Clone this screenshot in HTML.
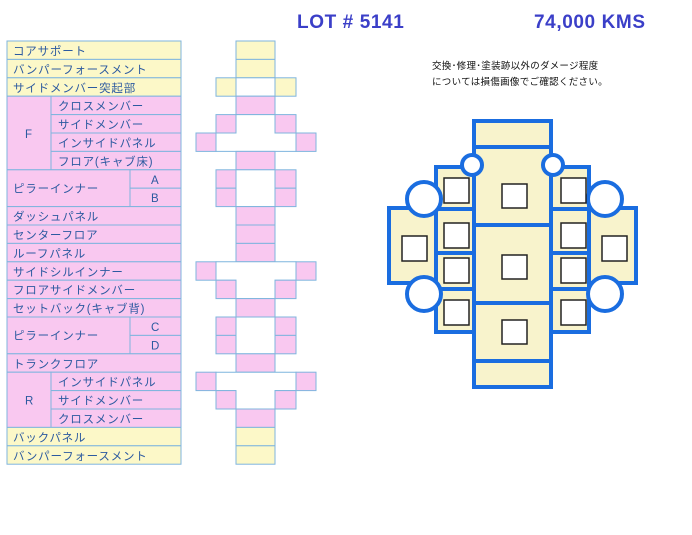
<!DOCTYPE html><html><head><meta charset="utf-8"><style>body{margin:0;background:#fff}svg{display:block}</style></head><body>
<svg width="692" height="535" xmlns="http://www.w3.org/2000/svg" font-family="'Liberation Sans','Noto Sans CJK JP',sans-serif">
<text x="297" y="28" font-size="19" font-weight="bold" fill="#3b3fc8" letter-spacing="0.6">LOT # 5141</text>
<text x="534" y="28" font-size="19" font-weight="bold" fill="#3b3fc8" letter-spacing="0.6">74,000 KMS</text>
<text x="432" y="69" font-size="9.5" fill="#111" letter-spacing="0.3">交換･修理･塗装跡以外のダメージ程度</text>
<text x="432" y="85" font-size="9.5" fill="#111" letter-spacing="0.3">については損傷画像でご確認ください。</text>
<g stroke="#7fb5de" stroke-width="1" font-size="11.5" fill="#2c5aa0">
<rect x="7" y="41" width="174" height="18.4" fill="#fcf8c8"/>
<rect x="7" y="59.4" width="174" height="18.4" fill="#fcf8c8"/>
<rect x="7" y="77.8" width="174" height="18.4" fill="#fcf8c8"/>
<rect x="7" y="96.2" width="44" height="73.6" fill="#f9c8f0"/>
<rect x="51" y="96.2" width="130" height="18.4" fill="#f9c8f0"/>
<rect x="51" y="114.6" width="130" height="18.4" fill="#f9c8f0"/>
<rect x="51" y="133" width="130" height="18.4" fill="#f9c8f0"/>
<rect x="51" y="151.4" width="130" height="18.4" fill="#f9c8f0"/>
<rect x="7" y="169.8" width="123" height="36.8" fill="#f9c8f0"/>
<rect x="130" y="169.8" width="51" height="18.4" fill="#f9c8f0"/>
<rect x="130" y="188.2" width="51" height="18.4" fill="#f9c8f0"/>
<rect x="7" y="206.6" width="174" height="18.4" fill="#f9c8f0"/>
<rect x="7" y="225" width="174" height="18.4" fill="#f9c8f0"/>
<rect x="7" y="243.4" width="174" height="18.4" fill="#f9c8f0"/>
<rect x="7" y="261.8" width="174" height="18.4" fill="#f9c8f0"/>
<rect x="7" y="280.2" width="174" height="18.4" fill="#f9c8f0"/>
<rect x="7" y="298.6" width="174" height="18.4" fill="#f9c8f0"/>
<rect x="7" y="317" width="123" height="36.8" fill="#f9c8f0"/>
<rect x="130" y="317" width="51" height="18.4" fill="#f9c8f0"/>
<rect x="130" y="335.4" width="51" height="18.4" fill="#f9c8f0"/>
<rect x="7" y="353.8" width="174" height="18.4" fill="#f9c8f0"/>
<rect x="7" y="372.2" width="44" height="55.2" fill="#f9c8f0"/>
<rect x="51" y="372.2" width="130" height="18.4" fill="#f9c8f0"/>
<rect x="51" y="390.6" width="130" height="18.4" fill="#f9c8f0"/>
<rect x="51" y="409" width="130" height="18.4" fill="#f9c8f0"/>
<rect x="7" y="427.4" width="174" height="18.4" fill="#fcf8c8"/>
<rect x="7" y="445.8" width="174" height="18.4" fill="#fcf8c8"/>
</g>
<g font-size="11.5" fill="#2c5aa0" letter-spacing="0.8">
<text x="13" y="55">コアサポート</text>
<text x="13" y="73.4">バンパーフォースメント</text>
<text x="13" y="91.8">サイドメンバー突起部</text>
<text x="25" y="138">F</text>
<text x="58" y="110.2">クロスメンバー</text>
<text x="58" y="128.6">サイドメンバー</text>
<text x="58" y="147">インサイドパネル</text>
<text x="58" y="165.4">フロア(キャブ床)</text>
<text x="13" y="192.5">ピラーインナー</text>
<text x="151" y="183.8">A</text>
<text x="151" y="202.2">B</text>
<text x="13" y="220.6">ダッシュパネル</text>
<text x="13" y="239">センターフロア</text>
<text x="13" y="257.4">ルーフパネル</text>
<text x="13" y="275.8">サイドシルインナー</text>
<text x="13" y="294.2">フロアサイドメンバー</text>
<text x="13" y="312.6">セットバック(キャブ背)</text>
<text x="13" y="339.7">ピラーインナー</text>
<text x="151" y="331">C</text>
<text x="151" y="349.4">D</text>
<text x="13" y="367.8">トランクフロア</text>
<text x="25" y="404.6">R</text>
<text x="58" y="386.2">インサイドパネル</text>
<text x="58" y="404.6">サイドメンバー</text>
<text x="58" y="423">クロスメンバー</text>
<text x="13" y="441.4">バックパネル</text>
<text x="13" y="459.8">バンパーフォースメント</text>
</g>
<g stroke="#7fb5de" stroke-width="1">
<rect x="236" y="41" width="39" height="18.4" fill="#fcf8c8"/>
<rect x="236" y="59.4" width="39" height="18.4" fill="#fcf8c8"/>
<rect x="216" y="77.8" width="20" height="18.4" fill="#fcf8c8"/>
<rect x="236" y="77.8" width="39" height="18.4" fill="#fff"/>
<rect x="275" y="77.8" width="21" height="18.4" fill="#fcf8c8"/>
<rect x="236" y="96.2" width="39" height="18.4" fill="#f9c8f0"/>
<polygon points="236,114.6 275,114.6 275,133 296,133 296,151.4 216,151.4 216,133 236,133" fill="#fff"/>
<rect x="216" y="114.6" width="20" height="18.4" fill="#f9c8f0"/>
<rect x="275" y="114.6" width="21" height="18.4" fill="#f9c8f0"/>
<rect x="196" y="133" width="20" height="18.4" fill="#f9c8f0"/>
<rect x="296" y="133" width="20" height="18.4" fill="#f9c8f0"/>
<rect x="236" y="151.4" width="39" height="18.4" fill="#f9c8f0"/>
<rect x="236" y="169.8" width="39" height="36.8" fill="#fff"/>
<rect x="216" y="169.8" width="20" height="18.4" fill="#f9c8f0"/>
<rect x="216" y="188.2" width="20" height="18.4" fill="#f9c8f0"/>
<rect x="275" y="169.8" width="21" height="18.4" fill="#f9c8f0"/>
<rect x="275" y="188.2" width="21" height="18.4" fill="#f9c8f0"/>
<rect x="236" y="206.6" width="39" height="18.4" fill="#f9c8f0"/>
<rect x="236" y="225" width="39" height="18.4" fill="#f9c8f0"/>
<rect x="236" y="243.4" width="39" height="18.4" fill="#f9c8f0"/>
<polygon points="216,261.8 296,261.8 296,280.2 275,280.2 275,298.6 236,298.6 236,280.2 216,280.2" fill="#fff"/>
<rect x="196" y="261.8" width="20" height="18.4" fill="#f9c8f0"/>
<rect x="296" y="261.8" width="20" height="18.4" fill="#f9c8f0"/>
<rect x="216" y="280.2" width="20" height="18.4" fill="#f9c8f0"/>
<rect x="275" y="280.2" width="21" height="18.4" fill="#f9c8f0"/>
<rect x="236" y="298.6" width="39" height="18.4" fill="#f9c8f0"/>
<rect x="236" y="317" width="39" height="36.8" fill="#fff"/>
<rect x="216" y="317" width="20" height="18.4" fill="#f9c8f0"/>
<rect x="216" y="335.4" width="20" height="18.4" fill="#f9c8f0"/>
<rect x="275" y="317" width="21" height="18.4" fill="#f9c8f0"/>
<rect x="275" y="335.4" width="21" height="18.4" fill="#f9c8f0"/>
<rect x="236" y="353.8" width="39" height="18.4" fill="#f9c8f0"/>
<polygon points="216,372.2 296,372.2 296,390.6 275,390.6 275,409 236,409 236,390.6 216,390.6" fill="#fff"/>
<rect x="196" y="372.2" width="20" height="18.4" fill="#f9c8f0"/>
<rect x="296" y="372.2" width="20" height="18.4" fill="#f9c8f0"/>
<rect x="216" y="390.6" width="20" height="18.4" fill="#f9c8f0"/>
<rect x="275" y="390.6" width="21" height="18.4" fill="#f9c8f0"/>
<rect x="236" y="409" width="39" height="18.4" fill="#f9c8f0"/>
<rect x="236" y="427.4" width="39" height="18.4" fill="#fcf8c8"/>
<rect x="236" y="445.8" width="39" height="18.4" fill="#fcf8c8"/>
</g>
<g stroke="#1a6de0" stroke-width="4" fill="#f8f3cc">
<rect x="474" y="121" width="77" height="26"/>
<rect x="474" y="147" width="77" height="78"/>
<rect x="474" y="225" width="77" height="78"/>
<rect x="474" y="303" width="77" height="58"/>
<rect x="474" y="361" width="77" height="26"/>
<rect x="436" y="167" width="38" height="42"/>
<rect x="436" y="209" width="38" height="44"/>
<rect x="436" y="253" width="38" height="36"/>
<rect x="436" y="289" width="38" height="43"/>
<rect x="551" y="167" width="38" height="42"/>
<rect x="551" y="209" width="38" height="44"/>
<rect x="551" y="253" width="38" height="36"/>
<rect x="551" y="289" width="38" height="43"/>
<rect x="389" y="208" width="47" height="75"/>
<rect x="589" y="208" width="47" height="75"/>
<g fill="#fff">
<circle cx="472" cy="165" r="10"/><circle cx="553" cy="165" r="10"/>
<circle cx="424" cy="199" r="17"/><circle cx="424" cy="294" r="17"/>
<circle cx="605" cy="199" r="17"/><circle cx="605" cy="294" r="17"/>
</g>
</g>
<g stroke="#222" stroke-width="1.5" fill="#fff">
<rect x="502" y="184" width="25" height="24"/>
<rect x="502" y="255" width="25" height="24"/>
<rect x="502" y="320" width="25" height="24"/>
<rect x="444" y="178" width="25" height="25"/>
<rect x="444" y="223" width="25" height="25"/>
<rect x="444" y="258" width="25" height="25"/>
<rect x="444" y="300" width="25" height="25"/>
<rect x="561" y="178" width="25" height="25"/>
<rect x="561" y="223" width="25" height="25"/>
<rect x="561" y="258" width="25" height="25"/>
<rect x="561" y="300" width="25" height="25"/>
<rect x="402" y="236" width="25" height="25"/>
<rect x="602" y="236" width="25" height="25"/>
</g>
</svg>
</body></html>
